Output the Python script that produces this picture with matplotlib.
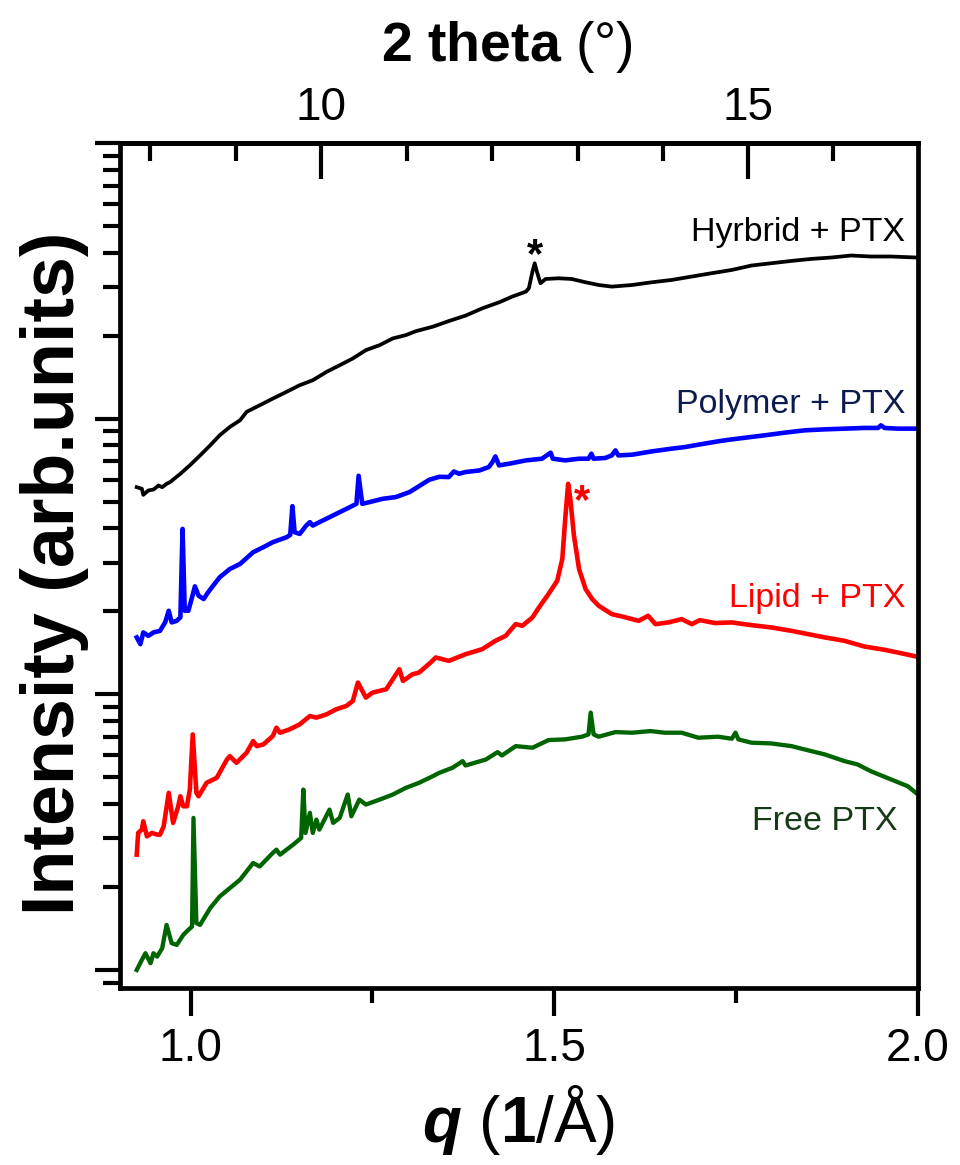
import numpy as np
import matplotlib
matplotlib.use("Agg")
import matplotlib.pyplot as plt
from matplotlib.ticker import MultipleLocator, NullFormatter, LogLocator, FixedLocator

plt.rcParams["font.family"] = ["Liberation Sans", "DejaVu Sans"]
plt.rcParams["mathtext.fontset"] = "custom"
plt.rcParams["mathtext.rm"] = "Liberation Sans"
plt.rcParams["mathtext.bf"] = "Liberation Sans:bold"
plt.rcParams["mathtext.it"] = "Liberation Sans:italic"
plt.rcParams["mathtext.bfit"] = "Liberation Sans:bold:italic"

# ---- data (q in 1/A, intensity in arb. units) ----
q_hybrid = [0.926, 0.933, 0.935, 0.942, 0.949, 0.956, 0.961, 0.967, 0.972, 0.986,
            0.999, 1.013, 1.027, 1.040, 1.054, 1.068, 1.077, 1.095, 1.113, 1.132,
            1.150, 1.168, 1.187, 1.205, 1.223, 1.241, 1.260, 1.278, 1.296, 1.310,
            1.333, 1.355, 1.378, 1.401, 1.424, 1.442, 1.461, 1.465, 1.470, 1.473,
            1.476, 1.481, 1.488, 1.506, 1.524, 1.543, 1.561, 1.579, 1.607, 1.634,
            1.661, 1.689, 1.716, 1.744, 1.771, 1.798, 1.826, 1.853, 1.881, 1.908,
            1.935, 1.963, 1.997]
i_hybrid = [56.4, 55.7, 52.9, 54.9, 55.3, 57.2, 56.4, 58.0, 58.9, 63.1,
            67.7, 73.5, 80.0, 87.0, 93.3, 98.6, 105.8, 111.8, 118.2, 125.1,
            132.2, 137.8, 147.8, 156.2, 165.3, 177.2, 184.8, 195.4, 200.9, 207.7,
            215.5, 225.9, 236.4, 251.2, 264.1, 277.0, 288.9, 297.0, 341.7, 366.1,
            341.7, 309.7, 321.0, 322.9, 321.0, 312.3, 305.3, 301.2, 305.3, 312.3,
            318.4, 327.6, 336.8, 346.2, 359.2, 366.1, 373.3, 379.6, 384.1, 390.6,
            387.3, 387.3, 384.1]

q_polymer = [0.926, 0.931, 0.935, 0.942, 0.949, 0.958, 0.965, 0.970, 0.974, 0.981,
             0.986, 0.989, 0.992, 0.997, 1.002, 1.006, 1.011, 1.018, 1.024, 1.031,
             1.040, 1.054, 1.068, 1.086, 1.100, 1.113, 1.132, 1.137, 1.140, 1.143,
             1.150, 1.159, 1.164, 1.168, 1.177, 1.191, 1.205, 1.219, 1.228, 1.231,
             1.236, 1.246, 1.264, 1.282, 1.301, 1.312, 1.328, 1.342, 1.355, 1.362,
             1.369, 1.378, 1.397, 1.410, 1.415, 1.419, 1.424, 1.438, 1.461, 1.483,
             1.495, 1.498, 1.515, 1.534, 1.547, 1.551, 1.554, 1.570, 1.579, 1.584,
             1.588, 1.607, 1.634, 1.661, 1.680, 1.698, 1.725, 1.744, 1.771, 1.789,
             1.817, 1.844, 1.872, 1.899, 1.926, 1.945, 1.949, 1.954, 1.972, 1.997]
i_polymer = [16.08, 15.20, 16.77, 16.29, 16.77, 16.99, 18.23, 20.09, 18.23, 18.47,
             19.01, 39.81, 20.09, 20.09, 22.47, 24.64, 22.78, 22.16, 23.43, 24.77,
             26.57, 28.48, 29.70, 32.76, 34.16, 35.62, 37.14, 37.87, 48.14, 38.73,
             38.18, 40.93, 42.11, 40.93, 42.11, 43.90, 45.78, 47.74, 49.08, 62.04,
             49.08, 49.79, 51.19, 51.92, 54.14, 56.44, 60.00, 61.52, 61.38, 64.33,
             63.10, 64.01, 64.86, 66.74, 69.58, 72.93, 67.66, 68.63, 70.55, 71.55,
             75.24, 71.55, 70.55, 71.55, 71.55, 74.61, 71.55, 71.98, 73.55, 76.69,
             73.55, 73.99, 76.05, 77.79, 78.90, 80.45, 82.70, 84.09, 85.81, 86.97,
             88.95, 90.68, 91.44, 91.97, 92.51, 92.51, 94.54, 92.51, 91.97, 91.97]

q_lipid = [0.926, 0.928, 0.933, 0.935, 0.940, 0.947, 0.954, 0.958, 0.963, 0.970,
           0.976, 0.983, 0.986, 0.990, 0.995, 0.999, 1.003, 1.008, 1.011, 1.022,
           1.036, 1.050, 1.054, 1.063, 1.077, 1.086, 1.091, 1.100, 1.113, 1.118,
           1.123, 1.136, 1.150, 1.164, 1.173, 1.187, 1.200, 1.214, 1.223, 1.230,
           1.241, 1.250, 1.269, 1.287, 1.292, 1.305, 1.314, 1.330, 1.337, 1.355,
           1.378, 1.401, 1.419, 1.433, 1.447, 1.456, 1.470, 1.479, 1.492, 1.504,
           1.511, 1.515, 1.519, 1.522, 1.527, 1.534, 1.543, 1.552, 1.561, 1.579,
           1.598, 1.616, 1.629, 1.639, 1.657, 1.675, 1.689, 1.700, 1.721, 1.744,
           1.771, 1.798, 1.826, 1.849, 1.872, 1.899, 1.926, 1.954, 1.972, 1.997]
i_lipid = [2.620, 3.142, 3.229, 3.462, 3.053, 3.142, 3.097, 3.097, 3.319, 4.390,
           3.416, 3.925, 4.267, 3.925, 3.925, 4.513, 7.154, 4.390, 4.267, 4.774,
           4.979, 5.802, 5.965, 5.644, 6.138, 6.766, 6.486, 6.579, 7.053, 7.565,
           7.255, 7.458, 7.779, 8.339, 8.228, 8.459, 8.822, 9.069, 9.454, 11.03,
           9.727, 10.14, 10.43, 12.33, 11.18, 11.82, 11.99, 13.04, 13.60, 13.22,
           13.98, 14.58, 15.63, 16.29, 17.97, 17.72, 19.01, 20.67, 23.10, 25.82,
           30.97, 43.29, 58.01, 51.19, 37.63, 28.48, 24.09, 22.16, 20.95, 19.54,
           19.01, 18.47, 19.27, 17.97, 18.23, 18.74, 17.97, 18.58, 18.13, 18.23,
           17.82, 17.48, 16.99, 16.53, 16.08, 15.63, 14.91, 14.50, 14.18, 13.72]

q_free = [0.926, 0.933, 0.938, 0.945, 0.949, 0.954, 0.961, 0.967, 0.974, 0.981,
          0.990, 0.997, 1.002, 1.004, 1.008, 1.013, 1.027, 1.040, 1.054, 1.068,
          1.086, 1.095, 1.113, 1.118, 1.123, 1.141, 1.152, 1.155, 1.158, 1.164,
          1.168, 1.173, 1.177, 1.191, 1.196, 1.205, 1.216, 1.221, 1.232, 1.241,
          1.260, 1.278, 1.296, 1.314, 1.333, 1.342, 1.360, 1.374, 1.378, 1.406,
          1.422, 1.428, 1.447, 1.470, 1.492, 1.515, 1.538, 1.547, 1.550, 1.554,
          1.561, 1.584, 1.607, 1.632, 1.652, 1.675, 1.698, 1.725, 1.744, 1.749,
          1.753, 1.771, 1.798, 1.826, 1.844, 1.872, 1.899, 1.917, 1.935, 1.963,
          1.986, 1.997]
i_free = [1.000, 1.087, 1.150, 1.058, 1.150, 1.118, 1.199, 1.457, 1.251, 1.233,
          1.341, 1.398, 1.437, 3.562, 1.479, 1.457, 1.677, 1.847, 1.982, 2.125,
          2.443, 2.374, 2.657, 2.732, 2.620, 2.848, 3.012, 4.513, 3.142, 3.714,
          3.142, 3.512, 3.229, 3.818, 3.416, 3.562, 4.329, 3.610, 4.151, 3.981,
          4.151, 4.329, 4.578, 4.774, 5.046, 5.192, 5.414, 5.721, 5.518, 5.802,
          6.169, 6.000, 6.486, 6.400, 6.822, 6.863, 7.018, 7.154, 8.581, 7.154,
          7.018, 7.294, 7.255, 7.354, 7.255, 7.255, 6.958, 7.018, 6.901, 7.255,
          6.863, 6.675, 6.635, 6.486, 6.310, 6.050, 5.721, 5.565, 5.261, 4.909,
          4.640, 4.390]

labels = ["Hyrbrid + PTX", "Polymer + PTX", "Lipid + PTX", "Free PTX"]
wavelength = 0.9285  # A, sets the 2-theta axis on top

# ---- figure ----
fig = plt.figure(figsize=(9.6, 11.65), dpi=100)
ax = fig.add_axes([0.125, 0.1519, 0.8313, 0.7254])

ax.plot(q_hybrid, i_hybrid, color="black", lw=2.7, solid_joinstyle="round")
ax.plot(q_polymer, i_polymer, color="#0000ff", lw=3.3, solid_joinstyle="round")
ax.plot(q_lipid, i_lipid, color="#ff0000", lw=3.3, solid_joinstyle="round")
ax.plot(q_free, i_free, color="#006400", lw=3.1, solid_joinstyle="round")

ax.set_yscale("log")
ax.set_xlim(0.903, 2.0)
ax.set_ylim(0.86, 1000)


def peak_in(qs, ys, lo, hi):
    sel = [(y, x) for x, y in zip(qs, ys) if lo <= x <= hi]
    y, x = max(sel)
    return x, y


# peak markers (*)
ax.annotate("*", xy=peak_in(q_hybrid, i_hybrid, 1.45, 1.50), xytext=(0, -3),
            textcoords="offset points", ha="center", va="baseline",
            fontsize=30, fontweight="bold", color="black")
ax.annotate("*", xy=peak_in(q_lipid, i_lipid, 1.50, 1.54), xytext=(10, -21),
            textcoords="offset points", ha="center", va="baseline",
            fontsize=30, fontweight="bold", color="#ff0000")

# curve labels
lab_cols = ["black", "#0d1b4f", "#ff0000", "#163a16"]
lab_pos = [(0.984, 0.8935), (0.984, 0.690), (0.984, 0.4615), (0.974, 0.1965)]
for t, c, (x, y) in zip(labels, lab_cols, lab_pos):
    ax.text(x, y, t, transform=ax.transAxes, ha="right", va="center",
            fontsize=24.5, color=c)

# axes styling
for s in ax.spines.values():
    s.set_linewidth(3.4)
ax.xaxis.set_major_locator(FixedLocator([1.0, 1.5, 2.0]))
ax.xaxis.set_minor_locator(FixedLocator([1.25, 1.75]))
ax.xaxis.set_major_formatter(matplotlib.ticker.FormatStrFormatter("%.1f"))
ax.yaxis.set_major_locator(LogLocator(base=10, numticks=10))
ax.yaxis.set_minor_locator(LogLocator(base=10, subs=np.arange(2, 10), numticks=10))
ax.yaxis.set_major_formatter(NullFormatter())
ax.yaxis.set_minor_formatter(NullFormatter())
ax.tick_params(axis="x", which="major", direction="out", length=20, width=3.0,
               labelsize=33, pad=8, top=False)
ax.tick_params(axis="x", which="minor", direction="out", length=11, width=3.0, top=False)
ax.tick_params(axis="y", which="major", direction="out", length=18, width=3.0, right=False)
ax.tick_params(axis="y", which="minor", direction="out", length=12, width=3.0, right=False)


def q2tth(q):
    return np.degrees(2 * np.arcsin(np.clip(np.asarray(q) * wavelength / (4 * np.pi), -1, 1)))


def tth2q(t):
    return 4 * np.pi * np.sin(np.radians(np.asarray(t)) / 2) / wavelength


sec = ax.secondary_xaxis("top", functions=(q2tth, tth2q))
sec.set_xticks([10, 15])
sec.xaxis.set_minor_locator(MultipleLocator(1))
sec.tick_params(which="major", direction="in", length=26, width=3.0, labelsize=33, pad=9)
sec.tick_params(which="minor", direction="in", length=13, width=3.0)
sec.spines["top"].set_linewidth(3.4)

fig.text(0.528, 0.9597, r"$\mathbf{2\ theta}$ (°)", fontsize=40, ha="center", va="center")
fig.text(0.54, 0.039, r"$\mathbfit{q}$ ($\mathbf{1}$/Å)", fontsize=46, ha="center", va="center")
fig.text(0.057, 0.5077, "Intensity (arb.units)", fontsize=53, fontweight="bold",
         rotation=90, ha="center", va="center")

fig.savefig("out.png", dpi=100)
